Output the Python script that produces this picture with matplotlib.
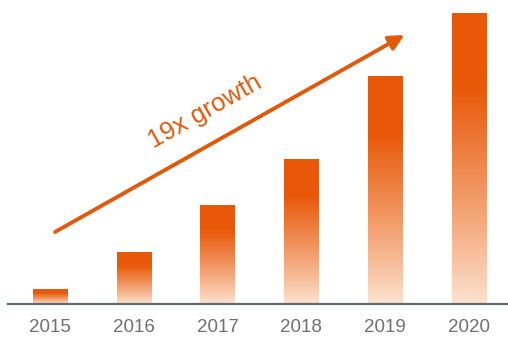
import numpy as np
import matplotlib
matplotlib.use("Agg")
import matplotlib.pyplot as plt

# data (bar heights, relative units)
years = ["2015", "2016", "2017", "2018", "2019", "2020"]
values = [15, 52, 99, 145, 228, 291]
label_text = "19x growth"

dark = np.array([232, 88, 8]) / 255.0
light = np.array([253, 228, 210]) / 255.0

fig = plt.figure(figsize=(5.08, 3.4), dpi=100)
ax = fig.add_axes([0, 36 / 340, 1, 304 / 340])

x = np.arange(len(years))
bar_w = 0.41

# gradient for each bar: solid near the top, fading to peach at the bottom
t = np.linspace(0, 1, 256)
f = np.clip(t / 0.75, 0, 1) ** 0.9
grad = light[None, :] + (dark - light)[None, :] * f[:, None]
grad = grad[:, None, :]

for xi, v in zip(x, values):
    ax.imshow(grad, extent=(xi - bar_w / 2, xi + bar_w / 2, 0, v),
              origin="lower", aspect="auto", interpolation="bilinear", zorder=2)

ax.set_xlim(-50 / 83.8, (508 - 50) / 83.8)
ax.set_ylim(0, 304)
ax.axis("off")

# baseline
ax.axhline(0, xmin=8 / 508, xmax=1, color="#5f6a73", lw=1.6, zorder=3, clip_on=False)

# year labels
for xi, yr in zip(x, years):
    ax.text(xi, -24, yr, ha="center", va="center", fontsize=13.5,
            family="Liberation Sans", color="#707070", clip_on=False)

# growth arrow
ax.annotate("", xy=(4.23, 269), xytext=(0.06, 72),
            arrowprops=dict(arrowstyle="-|>,head_length=0.9,head_width=0.45",
                            color="#e05a0c", lw=2.8, shrinkA=0, shrinkB=0))
ax.text(1.85, 192, label_text, rotation=29.4, rotation_mode="anchor",
        ha="center", va="center", fontsize=18.5, family="Liberation Sans",
        color="#e05a0c")

fig.savefig("out.png", dpi=100)
